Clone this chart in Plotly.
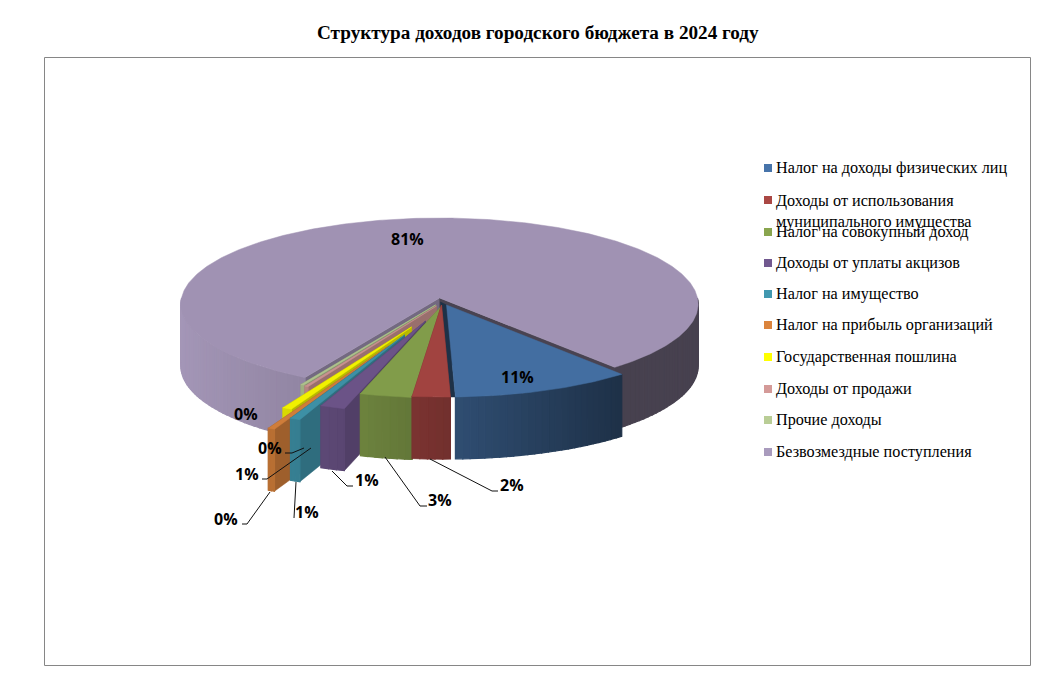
import numpy as np
import plotly.graph_objects as go

# ---- data -------------------------------------------------------------
title = "Структура доходов городского бюджета в 2024 году"
categories = ["Налог на доходы физических лиц",
              "Доходы от использования<br>муниципального имущества",
              "Налог на совокупный доход",
              "Доходы от уплаты акцизов",
              "Налог на имущество",
              "Налог на прибыль организаций",
              "Государственная пошлина",
              "Доходы от продажи",
              "Прочие доходы",
              "Безвозмездные поступления"]
shares = [10.6, 2.2, 3.05, 1.45, 0.6, 0.4, 0.55, 0.2, 0.2, 80.75]

# ---- style ------------------------------------------------------------
colors = ["#4774aa", "#aa4744", "#89a54e", "#71588f", "#4198af",
          "#db843d", "#ffff00", "#d49a98", "#b9cd96", "#a99bbd"]
explode = [(7, 7), (2, 7), (2, 8), (-14, 23), (-35, 37),
           (-51, 48), (-28, 29), (-3, 8), (-4, 7), (0, 0)]
draw_order = [9, 8, 7, 6, 5, 4, 3, 2, 0, 1]
label_pos = [(517, 377), (512, 485), (440, 500), (367, 480), (307, 512),
             (226, 519), (247, 474), (270, 448), (246, 414), (407, 239)]
leaders = {1: [(430, 459), (492, 491), (498, 491)],
           2: [(385, 457), (420, 506), (427, 506)],
           3: [(332, 471), (347, 486), (353, 486)],
           4: [(296, 482), (294, 518)],
           5: [(270, 492), (247, 524), (242, 524)],
           6: [(311, 448), (267, 479), (262, 479)],
           7: [(304, 448), (292, 453), (285, 453)]}
legend_y = [168, 200, 232, 263, 294, 325, 357, 389, 420, 452]

CX, CY, RX, RY, K, H = 439.5, 298.0, 258.0, 85.6, 0.07, 62.0
START = 140.0


def project(a_deg, off=(0, 0), r=1.0):
    a = np.radians(a_deg)
    u, v = r * np.sin(a), -r * np.cos(a)
    s = 1 / (1 - K * v)
    return CX + off[0] + RX * u * s, CY + off[1] + RY * v * s


def shade(col, f):
    rgb = [int(col[i:i + 2], 16) for i in (1, 3, 5)]
    return "rgb(%d,%d,%d)" % tuple(min(255, round(c * f)) for c in rgb)


def wall_f(a_deg):
    return float(np.interp(np.sin(np.radians(a_deg)),
                           [-1, -0.45, 0, 0.64, 1],
                           [0.97, 0.85, 0.68, 0.42, 0.42]))


fig = go.Figure()


def poly(pts, color, lw=0.5):
    xs = [p[0] for p in pts] + [pts[0][0]]
    ys = [p[1] for p in pts] + [pts[0][1]]
    fig.add_trace(go.Scatter(x=xs, y=ys, mode="lines", fill="toself",
                             fillcolor=color, line=dict(color=color, width=lw),
                             hoverinfo="skip", showlegend=False))


def down(p):
    return (p[0], p[1] + H)


edges = START + np.cumsum([0] + [s * 3.6 for s in shares])

for i in draw_order:
    a0, a1 = edges[i], edges[i + 1]
    off, col = explode[i], colors[i]
    apex = project(0, off, 0.0)
    c0, c1 = project(a0, off), project(a1, off)

    # radial cut walls
    if i == 0:  # sliver of the cut face seen left of the blue top
        poly([apex, c1, (c1[0] - 8, c1[1]), (apex[0] - 6, apex[1] - 3)], shade(col, 0.42))
    elif i == 9:
        poly([apex, c0, down(c0), down(apex)], shade(col, 0.68))
        poly([apex, c1, down(c1), down(apex)], shade(col, 0.43))
    else:
        poly([apex, c1, down(c1), down(apex)], shade(col, 0.7))
        poly([apex, c0, down(c0), down(apex)], shade(col, 0.72))

    # outer wall, split into strips for the side lighting
    spans = [(a0, a1)] if i != 9 else [(a0, 270.0), (450.0, a1)]
    for s0, s1 in spans:
        n = max(2, int((s1 - s0) / 1.5))
        t = np.linspace(s0, s1, n + 1)
        for j in range(n):
            p, q = project(t[j], off), project(t[j + 1], off)
            poly([p, q, down(q), down(p)], shade(col, wall_f((t[j] + t[j + 1]) / 2)), lw=1.2)

    # top face
    t = np.linspace(a0, a1, max(3, int((a1 - a0) * 1.5)))
    poly([apex] + [project(x, off) for x in t], shade(col, 0.945))

# leader lines
for pts in leaders.values():
    fig.add_trace(go.Scatter(x=[p[0] for p in pts], y=[p[1] for p in pts], mode="lines",
                             line=dict(color="#111111", width=1),
                             hoverinfo="skip", showlegend=False))

# data labels
for v, (lx, ly) in zip(shares, label_pos):
    fig.add_annotation(x=lx, y=ly, text="<b>%d%%</b>" % round(v), showarrow=False,
                       font=dict(family="Open Sans", size=16, color="#000000"),
                       xanchor="center", yanchor="middle")

# legend swatches and texts
fig.add_trace(go.Scatter(x=[768] * len(colors), y=legend_y, mode="markers",
                         marker=dict(symbol="square", size=8, color=colors, line=dict(width=0)),
                         hoverinfo="skip", showlegend=False))
for name, y in zip(categories, legend_y):
    two = "<br>" in name
    fig.add_annotation(x=774, y=y - 10.5 if two else y, text=name, showarrow=False,
                       font=dict(family="Liberation Serif", size=16.2, color="#000000"),
                       xanchor="left", yanchor="top" if two else "middle", align="left")

fig.add_annotation(x=538, y=32, text="<b>" + title + "</b>", showarrow=False,
                   font=dict(family="Liberation Serif", size=19.2, color="#000000"),
                   xanchor="center", yanchor="middle")

fig.add_shape(type="rect", x0=44.5, y0=57.5, x1=1030.5, y1=665.5,
              line=dict(color="#868686", width=1), layer="below")

fig.update_layout(width=1052, height=684, margin=dict(l=0, r=0, t=0, b=0),
                  paper_bgcolor="white", plot_bgcolor="white", showlegend=False,
                  hovermode=False,
                  xaxis=dict(range=[0, 1052], visible=False, fixedrange=True),
                  yaxis=dict(range=[684, 0], visible=False, fixedrange=True))

fig.write_html("out.html", config={"displayModeBar": False},
               post_script="document.body.style.margin='0';document.body.style.overflow='hidden';")
